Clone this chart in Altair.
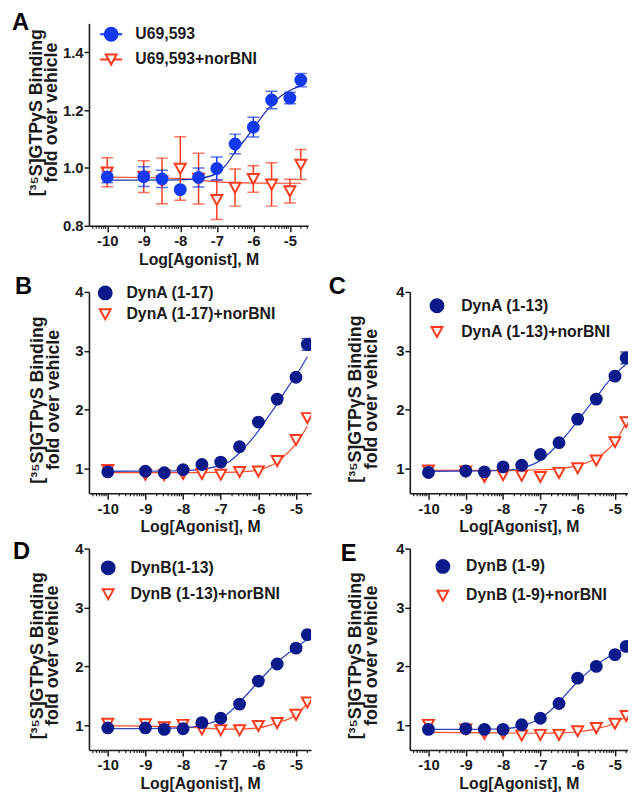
import altair as alt
import pandas as pd

FONT = "Liberation Sans"
INK = "#1a1a1a"
RED = "#ff3a1c"
RED_LINE = "#ff4a2a"

# ---------------- shared x positions (log molar) ----------------
DOSES = [-10, -9, -8.5, -8, -7.5, -7, -6.5, -6, -5.5, -5, -4.7]
FIT_X = [-10, -9, -8, -7.5, -7, -6.75, -6.5, -6.25, -6, -5.75, -5.5, -5.25, -5, -4.7]
MAJOR_TICKS = [-10, -9, -8, -7, -6, -5]
MINOR_OFFSETS = [0.301, 0.477, 0.602, 0.699, 0.778, 0.845, 0.903, 0.954]

# ---------------- Panel A ----------------
A_LABELS = ["U69,593", "U69,593+norBNI"]
A_AGO = [0.969, 0.970, 0.962, 0.925, 0.967, 0.998, 1.083, 1.141, 1.235, 1.242, 1.304]
A_AGO_ERR = [0.02, 0.034, 0.03, 0.0, 0.033, 0.04, 0.034, 0.034, 0.03, 0.02, 0.023]
A_ANT = [0.985, 0.970, 0.955, 0.998, 0.963, 0.890, 0.932, 0.962, 0.943, 0.920, 1.012]
A_ANT_ERR = [0.05, 0.055, 0.079, 0.11, 0.088, 0.068, 0.064, 0.046, 0.075, 0.041, 0.052]
A_AGO_FIT = [0.958, 0.958, 0.959, 0.963, 0.982, 1.010, 1.055, 1.095, 1.136, 1.180, 1.218, 1.248, 1.268, 1.285]
A_ANT_FIT_X = [-10, -9, -8, -7.5, -7, -6.5, -6, -5, -4.7]
A_ANT_FIT = [0.968, 0.967, 0.963, 0.958, 0.952, 0.949, 0.948, 0.947, 0.947]

# ---------------- Panel B ----------------
B_LABELS = ["DynA (1-17)", "DynA (1-17)+norBNI"]
B_AGO = [0.944, 0.955, 0.93, 0.98, 1.07, 1.11, 1.37, 1.79, 2.18, 2.55, 3.11]
B_AGO_ERR = [0, 0, 0, 0, 0, 0, 0, 0, 0, 0, 0.1]
B_ANT = [0.98, 0.90, 0.89, 0.91, 0.91, 0.90, 0.944, 0.955, 1.13, 1.49, 1.86]
B_ANT_ERR = [0, 0, 0, 0, 0, 0, 0, 0, 0, 0, 0]
B_AGO_FIT = [0.955, 0.956, 0.965, 0.99, 1.06, 1.13, 1.27, 1.44, 1.64, 1.87, 2.10, 2.35, 2.58, 2.90]
B_ANT_FIT_X = [-10, -9, -8, -7, -6.5, -6, -5.75, -5.5, -5.25, -5, -4.7]
B_ANT_FIT = [0.93, 0.93, 0.93, 0.935, 0.945, 0.97, 1.03, 1.11, 1.25, 1.42, 1.72]

# ---------------- Panel C ----------------
C_LABELS = ["DynA (1-13)", "DynA (1-13)+norBNI"]
C_AGO = [0.933, 0.96, 0.944, 1.03, 1.056, 1.24, 1.44, 1.84, 2.18, 2.57, 2.88]
C_AGO_ERR = [0, 0, 0, 0, 0, 0, 0, 0, 0, 0, 0.1]
C_ANT = [0.97, 0.955, 0.86, 0.89, 0.88, 0.86, 0.93, 1.01, 1.14, 1.45, 1.79]
C_ANT_ERR = [0, 0, 0, 0, 0, 0, 0, 0, 0, 0, 0]
C_AGO_FIT = [0.955, 0.956, 0.97, 1.01, 1.14, 1.27, 1.43, 1.61, 1.81, 2.02, 2.21, 2.42, 2.60, 2.77]
C_ANT_FIT_X = [-10, -9, -8, -7, -6.5, -6, -5.75, -5.5, -5.25, -5, -4.7]
C_ANT_FIT = [0.97, 0.97, 0.97, 0.98, 1.0, 1.05, 1.10, 1.17, 1.29, 1.45, 1.78]

# ---------------- Panel D ----------------
D_LABELS = ["DynB(1-13)", "DynB (1-13)+norBNI"]
D_AGO = [0.955, 0.955, 0.93, 0.94, 1.045, 1.12, 1.36, 1.75, 2.04, 2.31, 2.54]
D_AGO_ERR = [0, 0, 0, 0, 0, 0, 0, 0, 0, 0, 0]
D_ANT = [1.03, 1.02, 0.97, 1.01, 0.93, 0.92, 0.92, 0.99, 1.04, 1.18, 1.39]
D_ANT_ERR = [0, 0, 0, 0, 0, 0, 0, 0, 0, 0, 0]
D_AGO_FIT = [0.945, 0.945, 0.955, 1.0, 1.11, 1.23, 1.39, 1.56, 1.74, 1.91, 2.07, 2.20, 2.32, 2.46]
D_ANT_FIT_X = [-10, -9, -8, -7.5, -7, -6.5, -6, -5.5, -5, -4.7]
D_ANT_FIT = [0.99, 0.985, 0.97, 0.955, 0.935, 0.935, 0.955, 1.04, 1.18, 1.37]

# ---------------- Panel E ----------------
E_LABELS = ["DynB (1-9)", "DynB (1-9)+norBNI"]
E_AGO = [0.93, 0.944, 0.93, 0.93, 1.01, 1.12, 1.37, 1.80, 2.00, 2.20, 2.34]
E_AGO_ERR = [0, 0, 0, 0, 0, 0, 0, 0, 0, 0, 0]
E_ANT = [1.01, 0.93, 0.86, 0.86, 0.83, 0.84, 0.84, 0.90, 0.955, 1.03, 1.16]
E_ANT_ERR = [0, 0, 0, 0, 0, 0, 0, 0, 0, 0, 0]
E_AGO_FIT = [0.93, 0.93, 0.94, 0.99, 1.12, 1.24, 1.39, 1.57, 1.74, 1.89, 2.02, 2.13, 2.22, 2.32]
E_ANT_FIT_X = [-10, -9, -8, -7, -6.5, -6, -5.5, -5, -4.7]
E_ANT_FIT = [0.88, 0.875, 0.87, 0.865, 0.87, 0.89, 0.94, 1.04, 1.15]

Y_TICKS_A = [0.8, 1.0, 1.2, 1.4]
Y_TICKS = [1, 2, 3, 4]

CIRCLE_LINE = "M-1.7,0L1.7,0M1,0A1,1,0,1,1,-1,0A1,1,0,1,1,1,0Z"
TRI = "M-0.85,-0.75L0.85,-0.75L0,0.8Z"
TRI_LINE = "M-1.7,0L-0.44,0M0.44,0L1.7,0M-0.85,-0.75L0.85,-0.75L0,0.8Z"


def minor_ticks(dom):
    vals = []
    for d in range(-11, -4):
        for off in MINOR_OFFSETS:
            v = round(d + off, 3)
            if dom[0] <= v <= dom[1]:
                vals.append(v)
    return vals


def panel(p):
    xs = alt.Scale(domain=p["xdom"], nice=False, zero=False)
    ys = alt.Scale(domain=p["ydom"], nice=False, zero=False)
    x_axis = alt.Axis(
        values=MAJOR_TICKS, labelExpr="'' + datum.value",
        tickSize=6, labelOverlap=False, labelFlush=False, labelPadding=2,
        title="Log[Agonist], M", titleFontSize=16, titlePadding=3,
    )
    y_axis = alt.Axis(
        values=p["yticks"], format=p["yfmt"], tickSize=5, labelPadding=1,
        title=["[³⁵S]GTPγS Binding", "fold over vehicle"],
        titleFontSize=18, titleLineHeight=16, titleAngle=-90,
        titleAlign="center", titleBaseline="bottom",
        titleX=p["titleX"], titleY=p["titleY"],
    )
    labels = p["labels"]
    blue, blue_line = p["blue"], p["blue_line"]

    ago = pd.DataFrame({"x": DOSES, "y": p["ago"], "err": p["ago_err"]})
    ant = pd.DataFrame({"x": DOSES, "y": p["ant"], "err": p["ant_err"]})
    for df in (ago, ant):
        df["lo"] = df["y"] - df["err"]
        df["hi"] = df["y"] + df["err"]
    ago_e = ago[ago["err"] > 0]
    ant_e = ant[ant["err"] > 0]
    fit_ago = pd.DataFrame({"x": FIT_X, "y": p["ago_fit"]})
    fit_ant = pd.DataFrame({"x": p["ant_fit_x"], "y": p["ant_fit"]})
    minors = pd.DataFrame({"x": minor_ticks(p["xdom"])})

    X = lambda: alt.X("x:Q", scale=xs)
    Y = lambda f="y": alt.Y(f"{f}:Q", scale=ys)

    layers = []
    layers.append(alt.Chart(fit_ant).mark_line(interpolate="monotone", color=RED_LINE, strokeWidth=1.2, clip=True)
                  .encode(x=alt.X("x:Q", scale=xs, axis=x_axis), y=alt.Y("y:Q", scale=ys, axis=y_axis)))
    layers.append(alt.Chart(minors).mark_rule(color=INK, strokeWidth=1.2)
                  .encode(x=X(), y=alt.value(p["h"]), y2=alt.value(p["h"] + 3)))
    layers.append(alt.Chart(fit_ago).mark_line(interpolate="monotone", color=blue_line, strokeWidth=1.3, clip=True)
                  .encode(x=X(), y=Y()))
    for df, col in ((ant_e, RED), (ago_e, blue)):
        if len(df):
            layers.append(alt.Chart(df).mark_rule(color=col, strokeWidth=1.5, clip=True)
                          .encode(x=X(), y=Y("lo"), y2="hi:Q"))
            for end in ("lo", "hi"):
                layers.append(alt.Chart(df).mark_tick(color=col, orient="horizontal", size=12, thickness=1.5, clip=True)
                              .encode(x=X(), y=Y(end)))
    layers.append(alt.Chart(ant).mark_point(shape=TRI, filled=True, fill="white", stroke=RED, strokeWidth=2,
                                            size=170, opacity=1, clip=True)
                  .encode(x=X(), y=Y()))
    layers.append(alt.Chart(ago).mark_point(shape="circle", filled=True, color=blue, size=170, opacity=1, clip=True)
                  .encode(x=X(), y=Y()))

    leg = alt.Legend(orient="none", legendX=p["legX"], legendY=p["legY"], title=None, direction="vertical",
                     labelFont=FONT, labelFontSize=16, labelFontWeight="bold", labelColor=INK,
                     symbolSize=170, symbolStrokeWidth=2, rowPadding=p["legRow"], labelOffset=p["legOff"],
                     padding=0)
    shapes = [CIRCLE_LINE, TRI_LINE] if p["legend_lines"] else ["circle", TRI]
    lab_df = pd.DataFrame({"series": labels})
    layers.append(alt.Chart(lab_df).transform_filter("false")
                  .mark_point(filled=True, size=170, strokeWidth=2, opacity=1)
                  .encode(shape=alt.Shape("series:N", scale=alt.Scale(domain=labels, range=shapes), legend=leg),
                          fill=alt.Fill("series:N", scale=alt.Scale(domain=labels, range=[blue, "white"]), legend=leg),
                          stroke=alt.Stroke("series:N", scale=alt.Scale(domain=labels, range=[blue, RED]), legend=leg)))
    letter_df = pd.DataFrame({"t": [p["letter"]]})
    layers.append(alt.Chart(letter_df).mark_text(align="left", baseline="top", font=FONT, fontSize=24,
                                                 fontWeight="bold", color="black")
                  .encode(text="t:N", x=alt.value(p["letX"]), y=alt.value(p["letY"])))
    return alt.layer(*layers).properties(width=p["w"], height=p["h"])


BLUE_A, LINE_A = "#1238f0", "#1f33a8"
NAVY, LINE_N = "#0b1a8a", "#2f45c2"
XDOM_L = [-10.5, -4.6]
XDOM_R = [-10.5, -4.65]
YDOM = [0.58, 4.0]

pA = dict(labels=A_LABELS, ago=A_AGO, ago_err=A_AGO_ERR, ant=A_ANT, ant_err=A_ANT_ERR, ago_fit=A_AGO_FIT,
          ant_fit_x=A_ANT_FIT_X, ant_fit=A_ANT_FIT, xdom=[-10.5, -4.5], ydom=[0.8, 1.5], yticks=Y_TICKS_A,
          yfmt=".1f", w=222, h=205, blue=BLUE_A, blue_line=LINE_A, legend_lines=True,
          legX=14.5, legY=3, legRow=5.5, legOff=16.5, letter="A", letX=-78, letY=-12.5, titleX=-44.5, titleY=90)
pB = dict(labels=B_LABELS, ago=B_AGO, ago_err=B_AGO_ERR, ant=B_ANT, ant_err=B_ANT_ERR, ago_fit=B_AGO_FIT,
          ant_fit_x=B_ANT_FIT_X, ant_fit=B_ANT_FIT, xdom=XDOM_L, ydom=YDOM, yticks=Y_TICKS,
          yfmt="d", w=225, h=204, blue=NAVY, blue_line=LINE_N, legend_lines=False,
          legX=8.5, legY=-7, legRow=1.5, legOff=13.5, letter="B", letX=-75, letY=-17, titleX=-43, titleY=109)
pC = dict(labels=C_LABELS, ago=C_AGO, ago_err=C_AGO_ERR, ant=C_ANT, ant_err=C_ANT_ERR, ago_fit=C_AGO_FIT,
          ant_fit_x=C_ANT_FIT_X, ant_fit=C_ANT_FIT, xdom=XDOM_R, ydom=YDOM, yticks=Y_TICKS,
          yfmt="d", w=221, h=204, blue=NAVY, blue_line=LINE_N, legend_lines=False,
          legX=19.5, legY=6, legRow=6.5, legOff=16.5, letter="C", letX=-82, letY=-17, titleX=-46, titleY=108)
pD = dict(labels=D_LABELS, ago=D_AGO, ago_err=D_AGO_ERR, ant=D_ANT, ant_err=D_ANT_ERR, ago_fit=D_AGO_FIT,
          ant_fit_x=D_ANT_FIT_X, ant_fit=D_ANT_FIT, xdom=XDOM_L, ydom=YDOM, yticks=Y_TICKS,
          yfmt="d", w=225, h=204, blue=NAVY, blue_line=LINE_N, legend_lines=False,
          legX=11.5, legY=11.5, legRow=6.5, legOff=14.5, letter="D", letX=-77, letY=-8.5, titleX=-43.5, titleY=108)
pE = dict(labels=E_LABELS, ago=E_AGO, ago_err=E_AGO_ERR, ant=E_ANT, ant_err=E_ANT_ERR, ago_fit=E_AGO_FIT,
          ant_fit_x=E_ANT_FIT_X, ant_fit=E_ANT_FIT, xdom=XDOM_R, ydom=YDOM, yticks=Y_TICKS,
          yfmt="d", w=221, h=204, blue=NAVY, blue_line=LINE_N, legend_lines=False,
          legX=25.5, legY=10, legRow=9.5, legOff=15.5, letter="E", letX=-70, letY=-6.5, titleX=-46, titleY=108)

# invisible spacer beside panel A: it sets the height of the first grid row
spacer = (alt.Chart(pd.DataFrame({"s": [0]})).mark_point(opacity=0)
          .encode(x=alt.value(0), y=alt.value(0)).properties(width=221, height=216))

chart = (alt.concat(panel(pA), spacer, panel(pB), panel(pC), panel(pD), panel(pE),
                    columns=2, spacing={"row": 56, "column": 100}, bounds="flush")
         .resolve_scale(shape="independent", fill="independent", stroke="independent")
         .resolve_legend(shape="independent", fill="independent", stroke="independent")
         .properties(padding={"left": 4, "top": -2.5, "right": 0, "bottom": 0})
         .configure_view(stroke=None)
         .configure_axis(grid=False, domainColor=INK, domainWidth=1.6, tickColor=INK, tickWidth=1.5,
                         labelFont=FONT, labelFontSize=15, labelFontWeight="bold", labelColor=INK,
                         titleFont=FONT, titleFontWeight="bold", titleColor=INK))

chart.save("out.html", embed_options={"renderer": "svg", "actions": False})
